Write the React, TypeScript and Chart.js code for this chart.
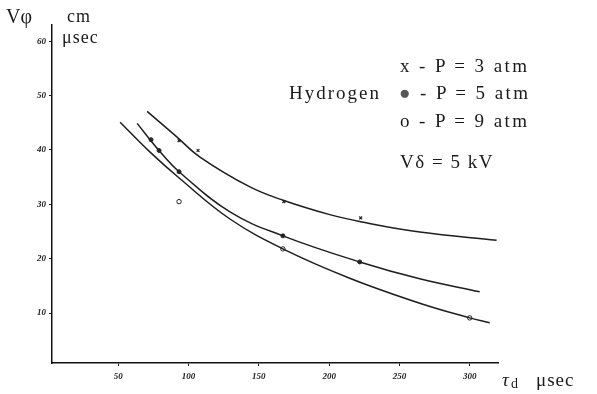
import React, { useEffect, useRef } from "react";
import { Chart, registerables } from "chart.js";

Chart.register(...registerables);

// x: delay time tau_d (μsec), y: phase velocity (cm/μsec)
const xTicks = [50, 100, 150, 200, 250, 300];
const yTicks = [10, 20, 30, 40, 50, 60];

// fitted curves
const curve3X = [70.6, 90.5, 108.2, 143.7, 167.8, 200.4, 222.4, 264.4, 319];
const curve3Y = [47.1, 42.7, 38.7, 33.2, 30.7, 28.1, 26.8, 24.9, 23.4];
const curve5X = [63.5, 79.1, 93.3, 129.5, 167.1, 221.7, 264.4, 307.0];
const curve5Y = [44.9, 39.9, 36.0, 28.6, 24.2, 19.4, 16.3, 13.9];
const curve9X = [51.4, 72.7, 94.0, 129.5, 167.1, 214.6, 264.4, 299.9, 314.1];
const curve9Y = [45.1, 39.6, 34.7, 27.3, 21.8, 16.4, 11.8, 9.1, 8.2];

// measured points
const pts3X = [93.3, 106.8, 167.8, 222.4];
const pts3Y = [41.7, 39.9, 30.5, 27.5];
const pts5X = [73.4, 79.1, 93.3, 167.1, 221.7];
const pts5Y = [41.9, 39.9, 36.0, 24.2, 19.4];
const pts9X = [93.3, 167.1, 299.9];
const pts9Y = [30.5, 21.8, 9.1];

const zip = (xs: number[], ys: number[]) => xs.map((x, i) => ({ x, y: ys[i] }));

const serif = '"Liberation Serif", "DejaVu Serif", serif';

export default function App() {
  const ref = useRef<HTMLCanvasElement | null>(null);

  useEffect(() => {
    if (!ref.current) return;
    const lineDs = (xs: number[], ys: number[]) => ({
      data: zip(xs, ys),
      showLine: true,
      pointRadius: 0,
      borderColor: "#1e1e1e",
      borderWidth: 1.5,
      tension: 0.4,
      fill: false,
    });
    const chart = new Chart(ref.current, {
      type: "scatter",
      data: {
        datasets: [
          lineDs(curve3X, curve3Y),
          lineDs(curve5X, curve5Y),
          lineDs(curve9X, curve9Y),
          {
            data: zip(pts3X, pts3Y),
            showLine: false,
            pointStyle: "crossRot",
            pointRadius: 2,
            borderColor: "#222",
            borderWidth: 1.2,
          },
          {
            data: zip(pts5X, pts5Y),
            showLine: false,
            pointStyle: "circle",
            pointRadius: 2,
            backgroundColor: "#333",
            borderColor: "#222",
            borderWidth: 1,
          },
          {
            data: zip(pts9X, pts9Y),
            showLine: false,
            pointStyle: "circle",
            pointRadius: 2.2,
            backgroundColor: "#fff",
            borderColor: "#222",
            borderWidth: 1,
          },
        ],
      },
      options: {
        responsive: false,
        animation: false,
        layout: { padding: { top: 25, right: 99, left: 0, bottom: 0 } },
        plugins: { legend: { display: false }, tooltip: { enabled: false } },
        scales: {
          x: {
            type: "linear",
            min: 3,
            max: 320,
            afterBuildTicks: (s: any) => {
              s.ticks = xTicks.map((v) => ({ value: v }));
            },
            afterFit: (s: any) => {
              s.height = 31;
            },
            ticks: {
              color: "#222",
              padding: 5,
              font: { family: serif, size: 9, style: "italic", weight: "bold" },
              callback: (v: any) => String(v),
            },
            grid: { drawOnChartArea: false, tickLength: 3, color: "#222" },
            border: { display: true, color: "#111", width: 1.5 },
          },
          y: {
            type: "linear",
            min: 0.8,
            max: 63,
            afterBuildTicks: (s: any) => {
              s.ticks = yTicks.map((v) => ({ value: v }));
            },
            afterFit: (s: any) => {
              s.width = 52;
            },
            ticks: {
              color: "#222",
              padding: 3,
              font: { family: serif, size: 9, style: "italic", weight: "bold" },
              callback: (v: any) => String(v),
            },
            grid: { drawOnChartArea: false, tickLength: 3, color: "#222" },
            border: { display: true, color: "#111", width: 1.5 },
          },
        },
      },
    } as any);
    return () => chart.destroy();
  }, []);

  const txt = (left: number, cy: number, size: number, content: React.ReactNode, extra: React.CSSProperties = {}) => (
    <div
      style={{
        position: "absolute",
        left,
        top: cy - size * 0.55,
        fontFamily: serif,
        fontSize: size,
        lineHeight: `${size}px`,
        whiteSpace: "pre",
        color: "#1a1a1a",
        ...extra,
      }}
    >
      {content}
    </div>
  );

  return (
    <div style={{ position: "fixed", left: 0, top: 0, width: 597, height: 394, background: "#fff" }}>
      <canvas ref={ref} width={597} height={394} style={{ position: "absolute", left: 0, top: 0 }} />
      {txt(6, 17, 20, "Vφ")}
      {txt(67, 17, 18, "cm", { letterSpacing: "1px" })}
      {txt(62, 38, 18, "μsec", { letterSpacing: "1px" })}
      {txt(400, 66, 19, "x - P = 3 atm", { letterSpacing: "2.4px" })}
      {txt(289, 93, 19, "Hydrogen", { letterSpacing: "2px" })}
      {txt(399, 93, 19, <><span style={{ color: "#555" }}>●</span>{" - P = 5 atm"}</>, { letterSpacing: "2.4px" })}
      {txt(400, 121, 19, "o - P = 9 atm", { letterSpacing: "2.4px" })}
      {txt(400, 162, 19, "Vδ = 5 kV", { letterSpacing: "1.5px" })}
      {txt(502, 380, 19, "τ", { fontStyle: "italic" })}
      {txt(511, 385, 14, "d")}
      {txt(536, 380, 19, "μsec", { letterSpacing: "1px" })}
    </div>
  );
}
